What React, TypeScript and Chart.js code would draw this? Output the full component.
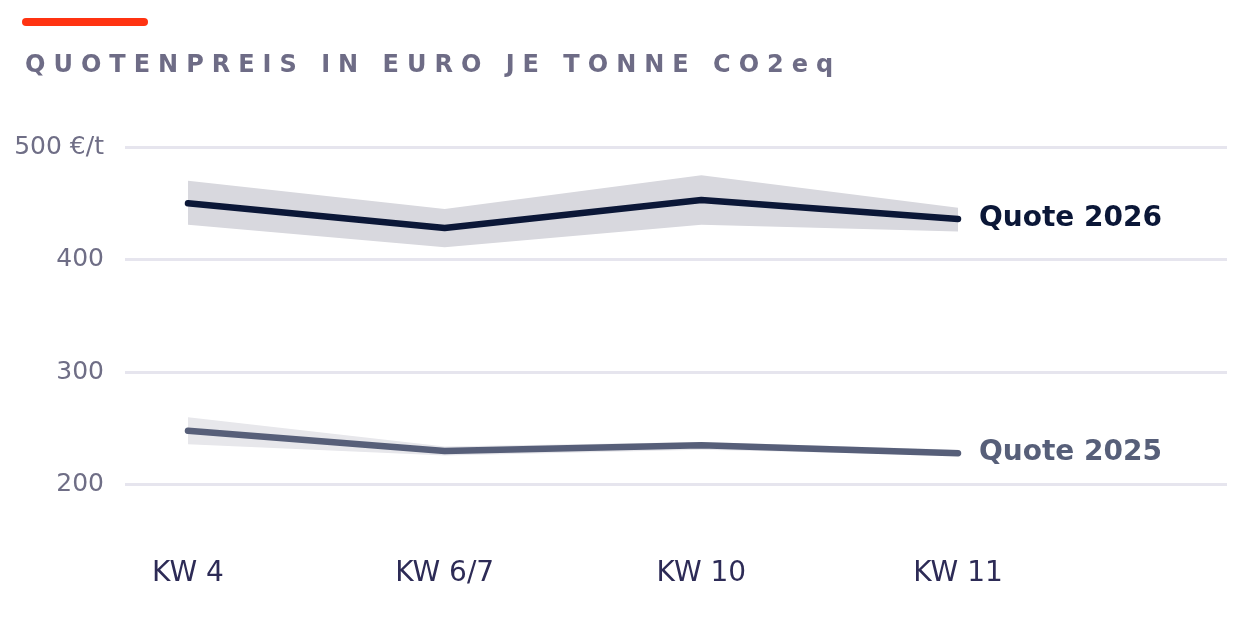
import { useEffect, useRef } from 'react'
import { Chart, registerables, Plugin } from 'chart.js'

Chart.register(...registerables)

const weeks = ['KW 4', 'KW 6/7', 'KW 10', 'KW 11']
const yTicks = [200, 300, 400, 500]

const quote2026 = [450, 428, 453, 436]
const quote2026High = [470, 445, 475, 446]
const quote2026Low = [431, 411, 431, 425]

const quote2025 = [248, 230, 235, 228]
const quote2025High = [260, 234, 238, 231]
const quote2025Low = [236, 226, 231, 226]

const seriesNames = ['Quote 2026', 'Quote 2025']

const FONT = '"DejaVu Sans", sans-serif'

const toPoints = (values: number[]) => values.map((y, i) => ({ x: i, y }))

// writes the series name right after the last point of each line
const endLabels: Plugin = {
  id: 'endLabels',
  afterDatasetsDraw(chart) {
    const { ctx } = chart
    chart.data.datasets.forEach((ds: any, i) => {
      if (!ds.endLabel) return
      const meta = chart.getDatasetMeta(i)
      const last = meta.data[meta.data.length - 1]
      if (!last) return
      ctx.save()
      ctx.font = `bold 28px ${FONT}`
      ctx.fillStyle = ds.borderColor
      ctx.textAlign = 'left'
      ctx.textBaseline = 'middle'
      ctx.fillText(ds.endLabel, last.x + 21, last.y)
      ctx.restore()
    })
  }
}

export default function App() {
  const chartRef = useRef<HTMLCanvasElement | null>(null)
  const chartInstance = useRef<Chart | null>(null)

  useEffect(() => {
    document.body.style.margin = '0'
    if (!chartRef.current) return
    const ctx = chartRef.current.getContext('2d')
    if (!ctx) return

    if (chartInstance.current) {
      chartInstance.current.destroy()
    }

    const band = (data: number[], color: string, fill: any) => ({
      data: toPoints(data),
      borderWidth: 0,
      pointRadius: 0,
      backgroundColor: color,
      fill,
      order: 2
    })

    chartInstance.current = new Chart(ctx, {
      type: 'line',
      data: {
        datasets: [
          band(quote2026High, '#d8d8de', '+1'),
          band(quote2026Low, '#d8d8de', false),
          band(quote2025High, '#e7e7eb', '+1'),
          band(quote2025Low, '#e7e7eb', false),
          {
            data: toPoints(quote2026),
            borderColor: '#0b1737',
            borderWidth: 6.5,
            borderCapStyle: 'round',
            borderJoinStyle: 'round',
            pointRadius: 0,
            fill: false,
            order: 1,
            endLabel: seriesNames[0]
          } as any,
          {
            data: toPoints(quote2025),
            borderColor: '#575f79',
            borderWidth: 6.5,
            borderCapStyle: 'round',
            borderJoinStyle: 'round',
            pointRadius: 0,
            fill: false,
            order: 1,
            endLabel: seriesNames[1]
          } as any
        ]
      },
      options: {
        animation: false,
        responsive: false,
        maintainAspectRatio: false,
        layout: { padding: { top: 147, right: 13, left: 0, bottom: 0 } },
        plugins: {
          legend: { display: false },
          tooltip: { enabled: false }
        },
        scales: {
          x: {
            type: 'linear',
            min: -0.2454,
            max: 4.048,
            border: { display: false },
            grid: { display: false, drawTicks: false },
            afterBuildTicks: (scale: any) => {
              scale.ticks = weeks.map((_, i) => ({ value: i }))
            },
            afterFit: (scale: any) => {
              scale.height = 79
            },
            ticks: {
              padding: 16,
              maxRotation: 0,
              autoSkip: false,
              color: '#2d2b56',
              font: { family: FONT, size: 28 },
              callback: (v: any) => weeks[v] ?? ''
            }
          },
          y: {
            min: 150,
            max: 500,
            border: { display: false },
            grid: { color: '#e6e5ee', lineWidth: 3, drawTicks: false },
            afterBuildTicks: (scale: any) => {
              scale.ticks = yTicks.map(value => ({ value }))
            },
            afterFit: (scale: any) => {
              scale.width = 125
            },
            ticks: {
              padding: 21,
              color: '#6f6e86',
              font: { family: FONT, size: 25 },
              callback: (v: any) => (v === 500 ? `${v} €/t` : `${v}`)
            }
          }
        }
      },
      plugins: [endLabels]
    })

    return () => {
      if (chartInstance.current) {
        chartInstance.current.destroy()
        chartInstance.current = null
      }
    }
  }, [])

  return (
    <div style={{ position: 'relative', width: 1240, height: 620, background: '#fff' }}>
      <canvas
        ref={chartRef}
        width={1240}
        height={620}
        style={{ position: 'absolute', left: 0, top: 0, width: 1240, height: 620 }}
      />
      <div
        style={{
          position: 'absolute',
          left: 22,
          top: 18,
          width: 126,
          height: 8,
          borderRadius: 4,
          background: '#ff3311'
        }}
      />
      <div
        style={{
          position: 'absolute',
          left: 25,
          top: 49,
          fontFamily: FONT,
          fontWeight: 'bold',
          fontSize: 24,
          letterSpacing: 8.0,
          color: '#6e6c86',
          whiteSpace: 'nowrap',
          lineHeight: '30px'
        }}
      >
        QUOTENPREIS IN EURO JE TONNE CO2eq
      </div>
    </div>
  )
}
